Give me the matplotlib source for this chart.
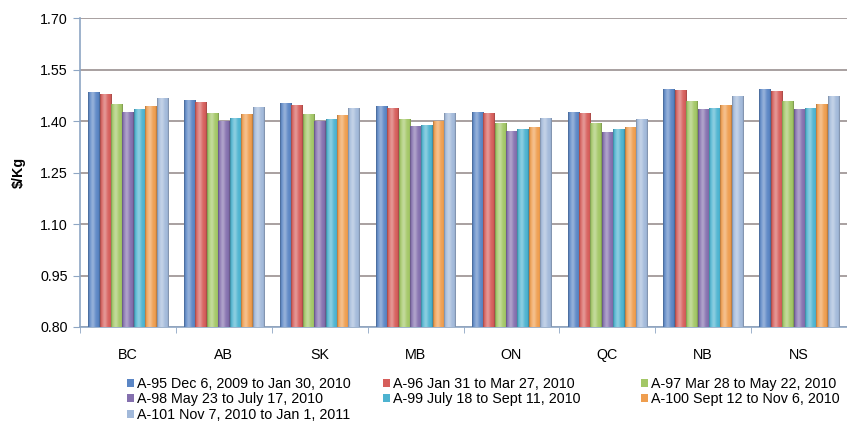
import numpy as np
import matplotlib.pyplot as plt
import matplotlib.colors as mcolors

plt.rcParams['font.family'] = ['Liberation Sans', 'DejaVu Sans']

provinces = ['BC', 'AB', 'SK', 'MB', 'ON', 'QC', 'NB', 'NS']

series_labels = [
    'A-95 Dec 6, 2009 to Jan 30, 2010',
    'A-96 Jan 31 to Mar 27, 2010',
    'A-97 Mar 28 to May 22, 2010',
    'A-98 May 23 to July 17, 2010',
    'A-99 July 18 to Sept 11, 2010',
    'A-100 Sept 12 to Nov 6, 2010',
    'A-101 Nov 7, 2010 to Jan 1, 2011',
]

# $/Kg per period, one list per province order above
a95 = [1.484, 1.460, 1.453, 1.443, 1.427, 1.427, 1.492, 1.492]
a96 = [1.480, 1.456, 1.448, 1.439, 1.424, 1.424, 1.489, 1.487]
a97 = [1.450, 1.424, 1.421, 1.407, 1.395, 1.395, 1.458, 1.458]
a98 = [1.427, 1.400, 1.400, 1.385, 1.371, 1.369, 1.434, 1.434]
a99 = [1.434, 1.408, 1.407, 1.388, 1.376, 1.376, 1.439, 1.439]
a100 = [1.444, 1.419, 1.417, 1.400, 1.384, 1.384, 1.448, 1.451]
a101 = [1.466, 1.442, 1.439, 1.424, 1.408, 1.407, 1.473, 1.473]
series = [a95, a96, a97, a98, a99, a100, a101]

colors = ['#5B86C5', '#D65E5B', '#A3C766', '#8470AE', '#4DB3D0', '#EF9E4F', '#A2B9DA']

yticks = [0.80, 0.95, 1.10, 1.25, 1.40, 1.55, 1.70]
ymin, ymax = 0.80, 1.70

fig = plt.figure(figsize=(8.47, 4.26), dpi=100)
ax = fig.add_axes([0.0945, 0.2324, 0.9055, 0.7253])

x = np.arange(len(provinces))
width = 0.119
axis_col = '#8EA6C4'
grid_col = '#9A9090'


def shade(color):
    # cylinder-like horizontal gradient: dark edges, light centre-left
    base = np.array(mcolors.to_rgb(color))
    t = np.linspace(0, 1, 64)
    rows = []
    for v in t:
        hl = np.exp(-((v - 0.4) / 0.22) ** 2)
        c = base + (1 - base) * 0.35 * hl
        edge = min(v, 1 - v)
        if edge < 0.12:
            c = c * (0.72 + 0.28 * edge / 0.12)
        rows.append(np.clip(c, 0, 1))
    return np.array(rows)[None, :, :]


for i, (vals, col, lab) in enumerate(zip(series, colors, series_labels)):
    bars = ax.bar(x + (i - 3) * width, vals, width * 0.97, color=col,
                  linewidth=0, label=lab, zorder=3)
    img = shade(col)
    for b in bars:
        x0 = b.get_x()
        im = ax.imshow(img, extent=[x0, x0 + b.get_width(), ymin, b.get_height()],
                       aspect='auto', zorder=3.5, interpolation='bilinear')
        im.set_clip_path(b)

ax.set_xlim(-0.5, len(provinces) - 0.5)
ax.set_ylim(ymin, ymax)
ax.set_yticks(yticks)
ax.set_yticklabels([f'{v:.2f}' for v in yticks], fontsize=10.3)
ax.yaxis.grid(True, color=grid_col, linewidth=1.2, zorder=0)
ax.set_axisbelow(True)

ax.set_xticks(x)
ax.set_xticklabels(provinces, fontsize=10.3)
ax.set_xticks(np.arange(len(provinces) + 1) - 0.5, minor=True)
ax.tick_params(axis='x', which='major', length=0, pad=15)
ax.tick_params(axis='x', which='minor', length=4, color=axis_col, direction='out')
ax.tick_params(axis='y', length=5, color=axis_col, pad=4)

for s in ['top', 'right']:
    ax.spines[s].set_visible(False)
ax.spines['left'].set_color(axis_col)
ax.spines['bottom'].set_color(axis_col)
ax.spines['left'].set_linewidth(1.2)
ax.spines['bottom'].set_linewidth(1.2)

ax.set_ylabel('$/Kg', fontsize=10.3, fontweight='bold', labelpad=10)

# legend laid out row by row like the original, one legend per column
handles, labels = ax.get_legend_handles_labels()
col_x = [0.150, 0.452, 0.757]
for c in range(3):
    idx = list(range(c, len(handles), 3))
    fig.legend([handles[k] for k in idx], [labels[k] for k in idx],
               loc='upper left', bbox_to_anchor=(col_x[c], 0.115),
               frameon=False, fontsize=10.3, handlelength=0.5, handleheight=0.5,
               handletextpad=0.2, labelspacing=0.1, borderaxespad=0, borderpad=0)

fig.savefig('out.png', dpi=100)
